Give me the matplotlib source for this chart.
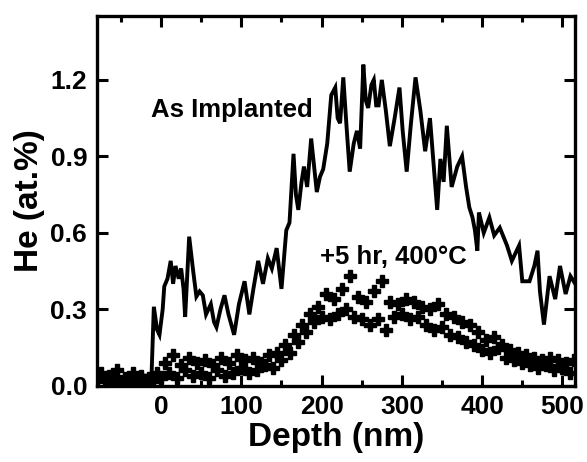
import matplotlib
matplotlib.use('Agg')
import matplotlib.pyplot as plt
from matplotlib.ticker import MultipleLocator

# As implanted profile (solid line), depth in nm, He in at.%
implanted_depth = [-80, -70, -60, -50, -40, -30, -20, -12, -9, -5, -2, 2, 4, 8, 12, 15, 18, 22,
                   25, 28, 30, 35, 40, 44, 48, 52, 56, 62, 66, 69, 74, 79, 84, 91, 97, 104, 110,
                   115, 121, 127, 133, 138, 144, 150, 156, 160, 165, 168, 171, 175, 178, 182,
                   187, 191, 194, 198, 202, 207, 212, 217, 220, 223, 227, 231, 235, 240, 244,
                   248, 252, 255, 258, 262, 265, 268, 271, 275, 280, 285, 291, 297, 301, 306,
                   311, 317, 323, 329, 335, 340, 344, 348, 352, 356, 362, 369, 375, 380, 384,
                   388, 391, 394, 396, 402, 409, 415, 422, 431, 437, 446, 450, 459, 465, 469,
                   472, 477, 484, 491, 497, 504, 510, 516]
implanted_he = [0.04, 0.03, 0.05, 0.02, 0.04, 0.03, 0.04, 0.03, 0.31, 0.22, 0.20, 0.30, 0.39,
                0.42, 0.49, 0.40, 0.47, 0.42, 0.46, 0.38, 0.27, 0.585, 0.45, 0.35, 0.37, 0.355,
                0.28, 0.32, 0.25, 0.23, 0.30, 0.355, 0.28, 0.20, 0.32, 0.41, 0.28, 0.38, 0.49,
                0.40, 0.50, 0.46, 0.54, 0.38, 0.61, 0.64, 0.91, 0.75, 0.69, 0.80, 0.86, 0.78,
                0.97, 0.85, 0.76, 0.82, 0.85, 0.95, 1.14, 1.17, 1.05, 1.03, 1.21, 1.02, 0.84,
                0.95, 1.00, 0.93, 1.26, 1.12, 1.09, 1.18, 1.20, 1.10, 1.10, 1.20, 1.08, 0.94,
                1.05, 1.17, 1.00, 0.84, 1.02, 1.21, 1.08, 0.92, 1.05, 0.85, 0.69, 0.89, 0.80,
                1.02, 0.78, 0.86, 0.90, 0.78, 0.70, 0.66, 0.61, 0.53, 0.68, 0.60, 0.66, 0.59,
                0.62, 0.55, 0.49, 0.55, 0.41, 0.41, 0.47, 0.53, 0.37, 0.24, 0.43, 0.34, 0.47,
                0.36, 0.43, 0.40]

# after +5 hr at 400C (crosses), two interleaved scans
anneal_depth_a = [-75, -65, -55, -45, -35, -25, -15, -5, 5, 15, 25, 35, 45, 55, 65, 75, 85, 95,
                  105, 115, 125, 135, 145, 155, 165, 175, 185, 195, 205, 215, 225, 235, 245,
                  255, 265, 275, 285, 295, 305, 315, 325, 335, 345, 355, 365, 375, 385, 395,
                  405, 415, 425, 435, 445, 455, 465, 475, 485, 495, 505, 515]
anneal_he_a = [0.05, 0.04, 0.06, 0.03, 0.05, 0.04, 0.03, 0.05, 0.09, 0.12, 0.08, 0.11, 0.09,
               0.10, 0.08, 0.11, 0.09, 0.12, 0.10, 0.11, 0.09, 0.12, 0.13, 0.16, 0.20, 0.24,
               0.28, 0.31, 0.36, 0.34, 0.38, 0.43, 0.35, 0.33, 0.37, 0.41, 0.33, 0.32, 0.34,
               0.33, 0.31, 0.30, 0.32, 0.28, 0.27, 0.25, 0.24, 0.21, 0.18, 0.19, 0.16, 0.14,
               0.13, 0.12, 0.11, 0.10, 0.11, 0.10, 0.09, 0.10]
anneal_depth_b = [-80, -70, -60, -50, -40, -30, -20, -10, 0, 10, 20, 30, 40, 50, 60, 70, 80, 90,
                  100, 110, 120, 130, 140, 150, 160, 170, 180, 190, 200, 210, 220, 230, 240,
                  250, 260, 270, 280, 290, 300, 310, 320, 330, 340, 350, 360, 370, 380, 390,
                  400, 410, 420, 430, 440, 450, 460, 470, 480, 490, 500, 510]
anneal_he_b = [0.02, 0.03, 0.01, 0.02, 0.03, 0.01, 0.02, 0.02, 0.03, 0.05, 0.03, 0.06, 0.04,
               0.05, 0.03, 0.06, 0.04, 0.05, 0.07, 0.05, 0.06, 0.08, 0.07, 0.10, 0.13, 0.17,
               0.21, 0.25, 0.27, 0.26, 0.28, 0.30, 0.27, 0.26, 0.24, 0.26, 0.22, 0.27, 0.28,
               0.26, 0.27, 0.24, 0.22, 0.23, 0.20, 0.19, 0.17, 0.16, 0.14, 0.13, 0.15, 0.11,
               0.10, 0.09, 0.08, 0.07, 0.08, 0.06, 0.07, 0.05]

x_ticks = [0, 100, 200, 300, 400, 500]
y_ticks = [0.0, 0.3, 0.6, 0.9, 1.2]

plt.rcParams['font.family'] = ['Liberation Sans', 'DejaVu Sans']
plt.rcParams['font.weight'] = 'bold'

fig = plt.figure(figsize=(5.87, 4.62), dpi=100)
ax = fig.add_axes([0.165, 0.165, 0.815, 0.80])

ax.plot(implanted_depth, implanted_he, color='black', linewidth=2.8, solid_joinstyle='miter')
ax.plot(anneal_depth_a, anneal_he_a, linestyle='none', marker='P', markersize=8, color='black')
ax.plot(anneal_depth_b, anneal_he_b, linestyle='none', marker='P', markersize=8, color='black')

ax.set_xlim(-80, 516)
ax.set_ylim(0, 1.45)
ax.set_xticks(x_ticks)
ax.set_yticks(y_ticks)
ax.set_yticklabels(['%.1f' % v for v in y_ticks])
ax.xaxis.set_minor_locator(MultipleLocator(50))

ax.tick_params(which='both', direction='in', top=True, right=True, width=2.2)
ax.tick_params(which='major', length=8, labelsize=19, pad=7)
ax.tick_params(which='minor', length=4)
for s in ax.spines.values():
    s.set_linewidth(2.4)

ax.set_xlabel('Depth (nm)', fontsize=24, fontweight='bold', labelpad=2)
ax.set_ylabel('He (at.%)', fontsize=24, fontweight='bold', labelpad=4)

ax.text(-12, 1.08, 'As Implanted', fontsize=18.5, fontweight='bold', va='center')
ax.text(198, 0.505, '+5 hr, 400°C', fontsize=18.5, fontweight='bold', va='center')

fig.savefig('out.png', dpi=100)
